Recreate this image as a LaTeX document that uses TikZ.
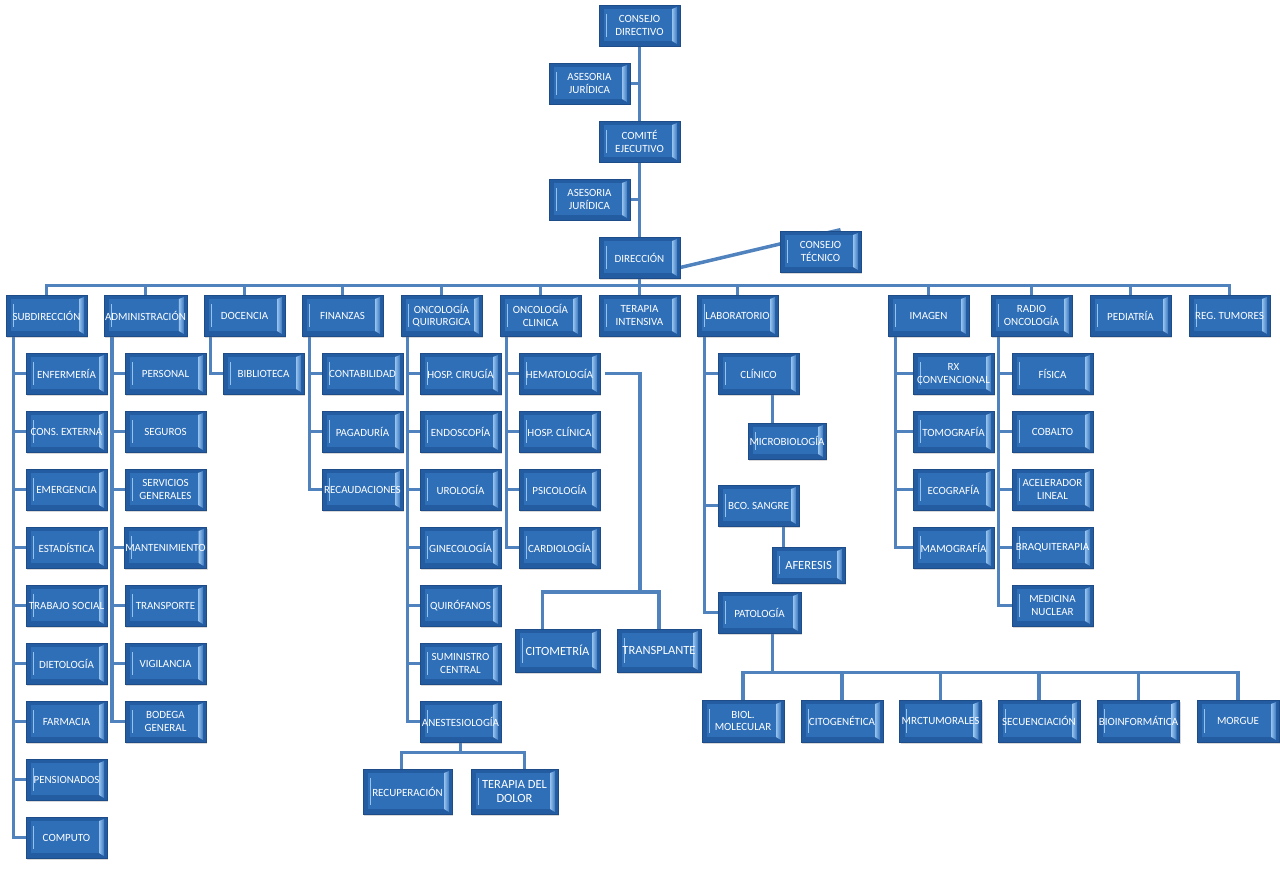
\documentclass[tikz,border=0pt]{standalone}
\usepackage{fontspec}
\setmainfont{Carlito}
\usepackage{tikz}
\usepackage{xcolor}
\definecolor{boxFace}{RGB}{46,111,184}
\definecolor{boxDark}{RGB}{36,92,162}
\definecolor{boxEdge}{RGB}{30,76,136}
\definecolor{boxLight}{RGB}{150,195,238}
\definecolor{boxMid}{RGB}{62,122,192}
\definecolor{lineBlue}{RGB}{80,130,190}
\usetikzlibrary{shadows}
\usetikzlibrary{backgrounds}

\begin{document}
\begin{tikzpicture}[x=1pt,y=-1pt]
\tikzstyle{nodeBox} = [
  shape=rectangle,
  minimum width=81pt,
  minimum height=41pt,
  inner xsep=1pt,
  inner ysep=1pt,
  align=center,
  text=white,
  font=\fontsize{11}{12.5}\selectfont,
  fill=boxDark,
  draw=boxEdge,
  line width=0.6pt,
  drop shadow={shadow xshift=1pt, shadow yshift=-1.5pt, opacity=0.3},
  path picture={
    \fill[boxFace] ([xshift=5pt,yshift=-4pt]path picture bounding box.north west) rectangle ([xshift=-8pt,yshift=5pt]path picture bounding box.south east);
    \shade[left color=boxLight, right color=boxMid] ([xshift=-8pt,yshift=-4pt]path picture bounding box.north east) -- ([xshift=-3pt,yshift=-2pt]path picture bounding box.north east) -- ([xshift=-3pt,yshift=2pt]path picture bounding box.south east) -- ([xshift=-8pt,yshift=5pt]path picture bounding box.south east) -- cycle;
    \draw[boxLight, line width=1pt] ([xshift=7pt,yshift=-9pt]path picture bounding box.north west) -- ([xshift=7pt,yshift=9pt]path picture bounding box.south west);
  }
]
\tikzstyle{nodeBig} = [
  nodeBox,
  font=\fontsize{12.5}{13.5}\selectfont
]
\tikzstyle{link} = [
  draw = lineBlue,
  line width = 3.5pt
]

\useasboundingbox (0,0) rectangle (1280,869);

% top of the chart
\node[nodeBox] (cdir) at (639.5,25.5) {CONSEJO\\DIRECTIVO};
\node[nodeBox] (ase1) at (589.5,83.5) {ASESORIA\\JURÍDICA};
\node[nodeBox] (comite) at (639.5,141.5) {COMITÉ\\EJECUTIVO};
\node[nodeBox] (ase2) at (589.5,199.5) {ASESORIA\\JURÍDICA};
\node[nodeBox] (direc) at (639.5,257.5) {DIRECCIÓN};
\node[nodeBox] (ctec) at (820.5,251.5) {CONSEJO\\TÉCNICO};

% first level
\node[nodeBox] (subdir) at (46.5,315.5) {SUBDIRECCIÓN};
\node[nodeBox] (admin) at (145.5,315.5) {ADMINISTRACIÓN};
\node[nodeBox] (docen) at (244.5,315.5) {DOCENCIA};
\node[nodeBox] (finan) at (342.5,315.5) {FINANZAS};
\node[nodeBox] (oncq) at (441.5,315.5) {ONCOLOGÍA\\QUIRURGICA};
\node[nodeBox] (oncc) at (540.5,315.5) {ONCOLOGÍA\\CLINICA};
\node[nodeBox] (terap) at (639.5,315.5) {TERAPIA\\INTENSIVA};
\node[nodeBox] (labo) at (737.5,315.5) {LABORATORIO};
\node[nodeBox] (imag) at (928.5,315.5) {IMAGEN};
\node[nodeBox] (radio) at (1031.5,315.5) {RADIO\\ONCOLOGÍA};
\node[nodeBox] (pedia) at (1130.5,315.5) {PEDIATRÍA};
\node[nodeBox] (regt) at (1229.5,315.5) {REG. TUMORES};

% subdireccion
\node[nodeBox] (enf) at (66.5,373.5) {ENFERMERÍA};
\node[nodeBox] (cext) at (66.5,431.5) {CONS. EXTERNA};
\node[nodeBox] (emer) at (66.5,489.5) {EMERGENCIA};
\node[nodeBox] (esta) at (66.5,547.5) {ESTADÍSTICA};
\node[nodeBox] (tsoc) at (66.5,605.5) {TRABAJO SOCIAL};
\node[nodeBox] (diet) at (66.5,663.5) {DIETOLOGÍA};
\node[nodeBox] (farm) at (66.5,721.5) {FARMACIA};
\node[nodeBox] (pens) at (66.5,779.5) {PENSIONADOS};
\node[nodeBox] (comp) at (66.5,837.5) {COMPUTO};

% administracion
\node[nodeBox] (pers) at (165.5,373.5) {PERSONAL};
\node[nodeBox] (segu) at (165.5,431.5) {SEGUROS};
\node[nodeBox] (sgen) at (165.5,489.5) {SERVICIOS\\GENERALES};
\node[nodeBox] (mant) at (165.5,547.5) {MANTENIMIENTO};
\node[nodeBox] (trans) at (165.5,605.5) {TRANSPORTE};
\node[nodeBox] (vigi) at (165.5,663.5) {VIGILANCIA};
\node[nodeBox] (bode) at (165.5,721.5) {BODEGA\\GENERAL};

% docencia, finanzas
\node[nodeBox] (bibl) at (263.5,373.5) {BIBLIOTECA};
\node[nodeBox] (cont) at (362.5,373.5) {CONTABILIDAD};
\node[nodeBox] (paga) at (362.5,431.5) {PAGADURÍA};
\node[nodeBox] (reca) at (362.5,489.5) {RECAUDACIONES};

% oncologia quirurgica
\node[nodeBox] (hcir) at (460.5,373.5) {HOSP. CIRUGÍA};
\node[nodeBox] (endo) at (460.5,431.5) {ENDOSCOPÍA};
\node[nodeBox] (urol) at (460.5,489.5) {UROLOGÍA};
\node[nodeBox] (gine) at (460.5,547.5) {GINECOLOGÍA};
\node[nodeBox] (quir) at (460.5,605.5) {QUIRÓFANOS};
\node[nodeBox] (sumi) at (460.5,663.5) {SUMINISTRO\\CENTRAL};
\node[nodeBox] (anes) at (460.5,721.5) {ANESTESIOLOGÍA};
\node[nodeBox, minimum width=89pt, minimum height=45pt] (recu) at (407.5,791.5) {RECUPERACIÓN};
\node[nodeBig, minimum width=87pt, minimum height=45pt] (tdol) at (514.5,791.5) {TERAPIA DEL\\DOLOR};

% oncologia clinica
\node[nodeBox] (hema) at (559.5,373.5) {HEMATOLOGÍA};
\node[nodeBox] (hcli) at (559.5,431.5) {HOSP. CLÍNICA};
\node[nodeBox] (psic) at (559.5,489.5) {PSICOLOGÍA};
\node[nodeBox] (card) at (559.5,547.5) {CARDIOLOGÍA};
\node[nodeBig, minimum width=85pt, minimum height=43pt] (citm) at (557.5,650.5) {CITOMETRÍA};
\node[nodeBig, minimum width=84pt, minimum height=43pt] (trsp) at (659,650.5) {TRANSPLANTE};

% laboratorio
\node[nodeBox] (clin) at (758.5,373.5) {CLÍNICO};
\node[nodeBox, minimum width=78pt, minimum height=36pt] (micr) at (787,441) {MICROBIOLOGÍA};
\node[nodeBox] (bcos) at (758.5,505.5) {BCO. SANGRE};
\node[nodeBig, minimum width=73pt, minimum height=36pt] (afer) at (808.5,565) {AFERESIS};
\node[nodeBox, minimum width=83pt] (pato) at (759.5,612.5) {PATOLOGÍA};
\node[nodeBox, minimum width=82pt, minimum height=42pt] (biol) at (743,721) {BIOL.\\MOLECULAR};
\node[nodeBox, minimum width=82pt, minimum height=42pt] (citg) at (842,721) {CITOGENÉTICA};
\node[nodeBox, minimum width=82pt, minimum height=42pt] (mrct) at (940.5,721) {MRCTUMORALES};
\node[nodeBox, minimum width=82pt, minimum height=42pt] (secu) at (1039,721) {SECUENCIACIÓN};
\node[nodeBox, minimum width=82pt, minimum height=42pt] (binf) at (1138.5,721) {BIOINFORMÁTICA};
\node[nodeBox, minimum width=82pt, minimum height=42pt] (morg) at (1238,721) {MORGUE};

% imagen, radio oncologia
\node[nodeBox] (rxco) at (953.5,373.5) {RX\\CONVENCIONAL};
\node[nodeBox] (tomo) at (953.5,431.5) {TOMOGRAFÍA};
\node[nodeBox] (ecog) at (953.5,489.5) {ECOGRAFÍA};
\node[nodeBox] (mamo) at (953.5,547.5) {MAMOGRAFÍA};
\node[nodeBox] (fisi) at (1052.5,373.5) {FÍSICA};
\node[nodeBox] (coba) at (1052.5,431.5) {COBALTO};
\node[nodeBox] (acel) at (1052.5,489.5) {ACELERADOR\\LINEAL};
\node[nodeBox] (braq) at (1052.5,547.5) {BRAQUITERAPIA};
\node[nodeBox] (mnuc) at (1052.5,605.5) {MEDICINA\\NUCLEAR};

% connectors
\coordinate (bar) at ([yshift=-7pt]direc.south);
\coordinate (subT) at ([xshift=8pt]subdir.south west);
\coordinate (admT) at ([xshift=8pt]admin.south west);
\coordinate (docT) at ([xshift=7pt]docen.south west);
\coordinate (finT) at ([xshift=8pt]finan.south west);
\coordinate (oqT) at ([xshift=7pt]oncq.south west);
\coordinate (ocT) at ([xshift=7pt]oncc.south west);
\coordinate (labT) at ([xshift=8pt]labo.south west);
\coordinate (imgT) at ([xshift=8pt]imag.south west);
\coordinate (radT) at ([xshift=8pt]radio.south west);
\coordinate (hemJ) at (640,592);
\coordinate (aneJ) at ([yshift=-10pt]anes.south);
\coordinate (micT) at ([xshift=14pt]clin.south);
\coordinate (afeT) at ([xshift=-25pt]afer.north);
\coordinate (patB) at ([xshift=13pt]pato.south);
\coordinate (patJ) at ([yshift=-39pt]patB);

\begin{scope}[on background layer]
\draw[link] (cdir.south) -- (comite.north) (comite.south) -- (direc.north) (direc.south) -- (bar);
\draw[link] (ase1.east) -- (ase1.east -| cdir.south) (ase2.east) -- (ase2.east -| comite.south);
\draw[link] ([yshift=-10pt]direc.east) -- ([xshift=20pt,yshift=1pt]ctec.north);
\draw[link] (bar) -| (subdir.north) (bar) -| (admin.north) (bar) -| (docen.north) (bar) -| (finan.north) (bar) -| (oncq.north) (bar) -| (oncc.north) (bar) -- (terap.north) (bar) -| (labo.north) (bar) -| (imag.north) (bar) -| (radio.north) (bar) -| (pedia.north) (bar) -| (regt.north);

\draw[link] (subT) |- (enf.west) (subT) |- (cext.west) (subT) |- (emer.west) (subT) |- (esta.west) (subT) |- (tsoc.west) (subT) |- (diet.west) (subT) |- (farm.west) (subT) |- (pens.west) (subT) |- (comp.west);
\draw[link] (admT) |- (pers.west) (admT) |- (segu.west) (admT) |- (sgen.west) (admT) |- (mant.west) (admT) |- (trans.west) (admT) |- (vigi.west) (admT) |- (bode.west);
\draw[link] (docT) |- (bibl.west);
\draw[link] (finT) |- (cont.west) (finT) |- (paga.west) (finT) |- (reca.west);
\draw[link] (oqT) |- (hcir.west) (oqT) |- (endo.west) (oqT) |- (urol.west) (oqT) |- (gine.west) (oqT) |- (quir.west) (oqT) |- (sumi.west) (oqT) |- (anes.west);
\draw[link] (anes.south) -- (aneJ) -| ([xshift=-6pt]recu.north) (aneJ) -| ([xshift=10pt]tdol.north);
\draw[link] (ocT) |- (hema.west) (ocT) |- (hcli.west) (ocT) |- (psic.west) (ocT) |- (card.west);
\draw[link] ([xshift=5pt]hema.east) -| (hemJ) -| ([xshift=-15pt]citm.north) (hemJ) -| (trsp.north);
\draw[link] (labT) |- (clin.west) (labT) |- (bcos.west) (labT) |- (pato.west);
\draw[link] (micT) -- (micT |- micr.north) (afeT) -- (afeT |- bcos.south);
\draw[link] (patB) -- (patJ) (patJ) -| (biol.north) (patJ) -| (citg.north) (patJ) -| (mrct.north) (patJ) -| (secu.north) (patJ) -| (binf.north) (patJ) -| (morg.north);
\draw[link] (imgT) |- (rxco.west) (imgT) |- (tomo.west) (imgT) |- (ecog.west) (imgT) |- (mamo.west);
\draw[link] (radT) |- (fisi.west) (radT) |- (coba.west) (radT) |- (acel.west) (radT) |- (braq.west) (radT) |- (mnuc.west);
\end{scope}

\end{tikzpicture}
\end{document}
